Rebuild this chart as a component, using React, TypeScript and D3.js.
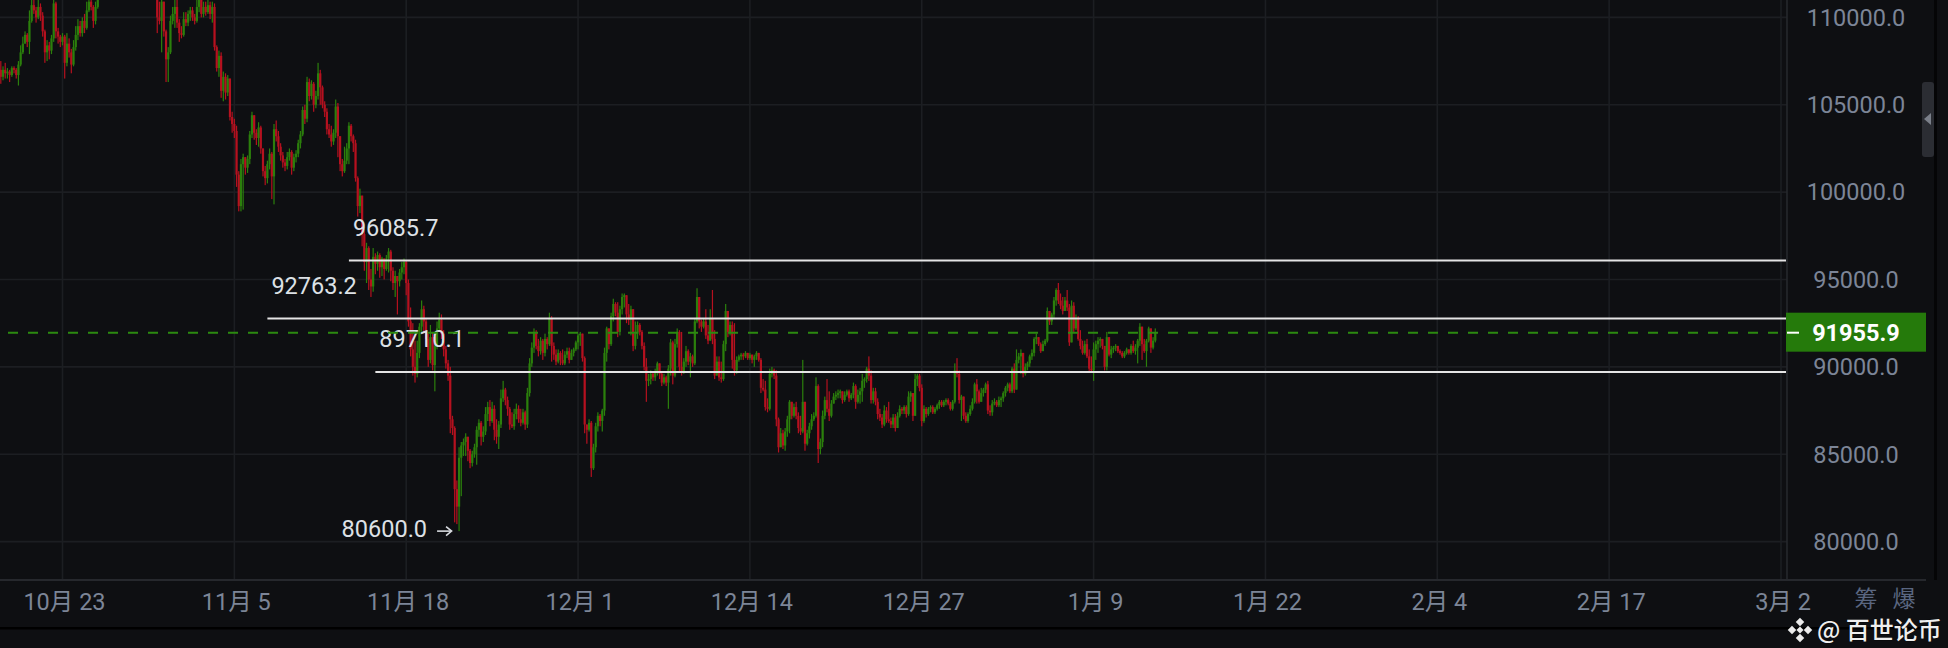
import React from 'react';
import * as d3 from 'd3';

// ---- data (prices in thousand USD), 4h candles starting 2025-10-18 08:00 UTC ----
const firstOpenK = 107.0;
const closeK = [
  106.6,107.0,106.8,106.9,106.7,107.1,107.0,106.7,107.3,108.0,108.5,109.0,108.6,109.8,110.7,110.4,110.0,110.6,110.1,109.2,
  108.0,108.4,108.1,108.8,110.8,109.2,108.9,108.6,108.9,107.4,108.5,108.0,107.3,108.3,109.0,109.5,109.1,109.8,109.4,110.4,
  110.9,110.6,109.8,110.6,111.3,111.8,112.4,113.0,112.7,113.4,114.0,113.6,114.2,114.8,115.2,114.6,114.1,113.5,113.9,113.2,
  112.6,113.0,112.4,112.9,113.3,112.8,112.3,112.7,112.1,112.5,111.9,110.0,109.8,110.9,109.2,107.6,108.0,109.8,110.2,110.6,
  109.7,109.1,109.0,109.9,109.7,110.2,110.4,110.0,109.8,110.6,111.2,110.2,110.6,110.3,110.7,110.2,110.6,108.3,107.1,107.8,
  105.8,106.6,105.7,106.5,104.3,103.9,103.5,101.0,99.2,101.6,102.0,101.4,101.9,103.3,104.4,103.4,103.1,103.7,102.5,101.2,
  100.8,101.6,102.2,100.9,103.6,103.2,102.6,102.1,101.7,101.5,102.0,102.3,101.4,102.0,102.2,102.8,103.3,104.7,104.2,106.3,
  105.5,106.2,105.0,105.5,106.8,106.0,105.0,104.6,103.6,103.3,102.9,103.4,104.9,103.2,101.6,101.2,101.8,102.5,103.8,103.2,
  102.8,100.8,99.2,99.8,97.6,96.0,96.8,95.0,94.6,96.3,95.9,96.4,95.7,96.2,95.6,96.2,96.6,95.5,94.8,95.2,
  94.9,95.4,95.7,96.0,94.8,92.6,91.0,90.0,89.6,90.8,92.3,93.3,92.6,91.6,90.4,91.7,90.1,91.2,92.2,92.7,
  91.9,91.0,90.2,89.5,87.0,86.5,83.0,82.0,84.8,85.5,85.7,86.0,85.2,84.5,85.0,85.4,86.4,86.8,86.0,86.3,
  87.3,87.7,86.9,87.6,86.4,86.0,86.7,88.2,88.7,88.1,87.6,86.7,86.6,87.3,87.6,87.0,86.8,87.4,86.7,88.5,
  90.2,91.1,92.0,91.2,90.9,91.5,90.8,91.6,91.3,92.8,91.2,90.7,90.3,90.8,90.4,90.2,90.7,90.9,90.4,90.8,
  91.0,91.4,91.8,91.9,90.5,86.7,86.4,86.8,84.2,85.4,86.6,87.2,86.9,87.5,90.8,92.2,91.3,92.9,93.6,93.1,
  92.0,93.3,94.0,94.1,93.0,92.7,93.3,91.2,91.9,92.4,92.0,91.2,90.0,89.2,89.3,89.6,89.4,89.7,90.2,89.6,
  89.1,89.4,89.1,89.9,91.4,89.5,91.3,92.0,90.0,89.7,90.3,90.9,90.3,90.6,90.2,92.6,94.0,92.6,92.3,92.6,
  91.8,91.5,92.8,91.6,89.5,90.3,89.4,89.3,91.3,93.2,92.0,92.4,90.4,89.8,90.4,90.6,90.7,90.6,90.8,
  90.5,90.7,90.4,90.6,90.8,90.4,88.8,88.7,87.7,87.6,89.6,89.8,89.5,87.0,85.4,86.2,85.5,86.3,87.0,88.0,87.2,87.7,87.2,86.5,
  86.3,88.0,85.6,86.2,86.6,87.0,87.2,88.9,85.3,85.7,87.2,88.1,87.6,87.2,87.9,88.3,88.4,88.5,88.6,88.1,
  88.4,88.6,88.2,88.4,88.9,88.0,88.4,88.6,89.2,89.3,89.9,89.5,88.1,88.6,88.0,87.3,87.1,86.7,87.5,87.0,
  86.9,86.7,87.1,86.5,87.2,87.6,87.5,87.7,87.3,88.3,88.5,87.2,89.3,89.5,88.8,86.9,87.6,87.3,87.6,87.7,
  87.4,87.6,87.8,88.0,87.8,88.0,88.1,87.9,87.6,88.0,89.8,89.6,88.1,88.3,87.2,86.9,87.3,87.6,88.0,89.0,
  88.6,88.0,88.5,88.7,89.0,87.5,87.4,87.9,88.0,87.8,88.1,
  88.2,88.5,88.8,89.0,88.6,89.9,88.7,90.4,90.6,90.8,89.6,90.0,90.2,90.6,90.8,91.6,91.7,91.3,90.9,91.3,
  91.5,93.2,92.6,93.0,93.8,94.4,93.8,93.5,93.2,93.8,93.4,91.4,93.5,92.2,92.8,91.6,91.2,90.8,91.3,90.6,
  89.9,89.8,91.0,91.3,91.5,91.6,91.2,90.0,91.7,90.7,91.0,91.1,91.2,90.9,90.8,90.6,90.8,91.0,90.8,91.2,
  90.9,91.1,91.5,92.3,91.3,90.9,91.5,92.2,91.1,91.5,91.9559,
];
const highK = [
  107.5,107.2,107.4,107.1,107.0,107.2,107.2,107.1,107.5,108.4,108.9,109.2,109.1,110.4,111.3,111.2,110.6,111.3,110.8,110.3,
  109.3,108.7,108.6,109.0,111.4,110.9,109.4,109.0,109.1,109.0,109.1,108.8,108.2,108.7,109.5,109.9,109.8,110.0,110.2,110.9,
  111.5,111.2,110.7,110.9,111.8,112.3,112.8,113.5,113.3,113.9,114.5,114.3,114.8,115.3,115.7,115.4,114.9,114.3,114.2,114.0,
  113.4,113.3,113.1,113.2,113.6,113.5,113.0,113.0,112.9,112.8,112.6,112.0,110.9,111.3,110.9,109.3,108.3,110.1,110.6,111.0,
  111.2,109.9,109.5,110.3,110.3,110.4,110.6,110.6,110.2,111.3,111.6,111.5,110.9,110.9,111.4,110.9,110.9,110.8,108.4,108.1,
  108.0,106.9,106.8,106.7,106.5,104.6,104.2,103.8,101.2,101.9,102.2,101.9,102.1,103.5,104.6,104.4,103.6,104.0,103.8,102.5,
  101.5,101.8,102.5,102.3,103.9,104.1,103.5,102.8,102.3,101.9,102.3,102.5,102.4,102.2,102.4,103.0,103.5,104.9,105.0,106.6,
  106.5,106.4,106.3,105.8,107.4,107.0,106.1,105.2,104.8,103.9,103.8,103.6,105.3,105.1,103.0,101.9,102.6,102.8,104.0,103.9,
  103.3,103.0,100.9,100.2,99.5,97.8,97.1,96.9,95.6,96.8,96.5,96.6,96.5,96.3,96.2,96.4,96.8,96.7,95.7,95.5,
  95.1,95.6,96.0,96.2,96.1,95.0,93.4,92.5,91.5,91.5,92.5,93.8,93.5,92.8,91.9,92.4,92.0,91.5,92.6,93.1,
  93.0,92.1,91.2,90.4,90.0,87.2,86.6,83.5,85.4,85.7,85.9,86.2,86.0,85.3,85.2,85.6,86.6,87.0,86.9,86.6,
  87.7,88.0,88.1,88.0,87.8,87.0,86.9,88.7,89.2,88.8,88.3,87.7,87.4,87.6,87.9,87.8,87.6,87.6,87.5,88.8,
  90.5,91.4,92.2,92.1,91.6,91.7,91.6,91.9,91.7,93.1,92.9,91.4,91.0,91.0,90.9,91.0,90.9,91.1,91.1,91.0,
  91.1,91.5,91.9,92.0,91.9,90.6,86.6,87.0,86.9,85.6,86.8,87.4,87.3,87.6,91.1,92.3,92.2,93.1,93.9,93.7,
  93.7,93.5,94.2,94.2,94.1,93.6,93.5,93.2,92.6,92.6,92.5,92.1,91.4,90.5,89.6,89.8,89.7,89.9,90.3,90.2,
  89.7,89.6,89.5,90.1,91.6,91.5,91.6,92.2,92.1,92.0,90.5,91.2,91.0,90.8,90.7,92.8,94.5,93.8,92.7,92.8,
  93.3,92.4,93.3,94.4,92.1,90.6,90.6,90.3,91.5,93.6,93.0,92.6,92.6,92.5,90.6,90.7,90.8,90.8,90.9,
  90.8,90.8,90.7,90.7,90.9,90.8,90.5,89.3,89.2,88.2,89.9,90.0,89.9,89.8,87.1,86.5,86.4,86.5,87.2,88.1,88.0,87.9,88.0,87.4,
  87.2,90.4,88.0,86.4,86.8,87.3,87.4,89.4,89.0,85.9,87.5,88.3,89.3,88.6,88.1,88.5,88.6,88.7,88.7,88.6,
  88.6,88.7,88.7,88.5,89.1,89.0,88.7,88.8,89.6,89.4,90.0,90.6,89.8,88.8,88.8,88.2,87.6,87.3,87.8,87.7,
  88.0,87.1,87.3,87.3,87.4,87.8,87.7,87.8,87.8,88.6,88.6,88.5,89.6,89.6,89.6,89.0,87.8,87.7,87.7,87.8,
  87.8,87.7,87.9,88.1,88.1,88.1,88.2,88.2,88.0,88.1,90.2,90.5,89.8,88.4,88.2,87.4,87.4,87.8,88.2,89.1,
  89.3,88.7,88.8,88.8,89.1,89.2,87.8,88.1,88.2,88.1,88.3,
  88.3,88.6,88.9,89.1,89.1,90.0,90.2,91.0,90.8,91.0,90.6,90.2,90.3,90.7,91.0,91.7,91.9,91.7,91.4,91.5,
  91.6,93.4,93.2,93.1,94.0,94.5,94.8,94.2,94.0,94.0,94.4,93.6,93.8,93.7,93.0,92.9,92.1,91.5,91.5,91.6,
  91.0,90.6,91.4,91.5,91.7,91.7,91.6,91.1,92.0,91.7,91.2,91.2,91.3,91.2,91.0,90.9,90.9,91.1,91.0,91.3,
  91.5,91.3,91.6,92.5,92.3,91.6,91.6,92.3,91.9,91.7,92.2,
];
const lowK = [
  106.2,106.4,106.5,106.5,106.3,106.6,106.8,106.5,106.1,107.2,107.9,108.6,108.3,107.9,109.7,110.2,109.7,109.9,109.8,108.9,
  107.4,107.5,107.6,107.9,108.6,108.8,108.5,108.3,108.4,106.5,107.2,107.7,106.8,107.2,108.1,108.7,108.9,108.9,109.1,109.3,
  110.3,110.4,109.4,109.6,110.5,111.2,111.6,112.2,112.3,112.5,113.2,113.2,113.4,114.0,114.5,114.2,113.8,113.1,113.2,112.8,
  112.2,112.3,112.0,112.1,112.6,112.5,111.9,111.8,111.7,111.6,111.4,109.1,109.6,108.0,108.9,106.3,106.3,107.9,109.6,109.4,
  109.4,108.6,108.8,108.9,109.5,109.5,109.8,109.8,109.6,109.7,110.3,110.0,110.0,110.1,110.2,109.9,109.7,108.1,106.9,106.6,
  105.4,105.2,105.3,105.5,104.1,103.4,103.1,100.3,98.9,98.9,99.0,101.0,101.1,101.6,103.1,103.0,102.7,102.6,102.2,100.9,
  100.4,100.5,101.3,99.6,99.3,102.9,102.3,101.8,101.4,101.2,101.3,101.8,101.0,101.2,101.7,102.0,102.5,103.2,103.9,104.0,
  105.2,105.3,104.6,104.8,105.3,105.0,104.8,104.3,103.3,103.1,102.6,102.7,103.1,102.0,101.2,100.9,101.1,101.6,101.6,102.9,
  102.3,100.6,98.6,98.8,96.9,95.5,94.8,94.4,94.0,94.3,95.3,95.5,95.1,95.2,95.0,95.5,95.4,94.9,94.4,94.0,
  93.0,94.6,95.0,95.3,94.1,92.3,90.6,89.5,89.1,89.4,90.5,92.0,92.0,91.2,90.0,90.2,89.8,88.6,91.0,92.0,
  91.6,90.6,89.9,89.2,86.2,86.1,81.1,81.0,80.6,82.6,84.9,84.9,84.6,84.2,84.3,84.8,84.4,86.0,85.5,85.7,
  86.1,86.9,86.6,86.8,85.8,85.6,85.3,86.5,88.0,87.8,87.2,86.4,86.5,86.4,87.0,86.8,86.6,86.7,86.4,86.5,
  88.3,90.0,90.8,91.0,90.6,90.7,90.4,90.6,91.0,91.2,90.3,90.4,90.1,90.2,90.1,90.1,90.1,90.5,90.2,90.4,
  90.6,90.9,91.0,91.2,90.3,86.2,85.6,86.3,83.7,84.1,85.1,86.3,86.6,86.3,87.2,90.3,91.0,91.2,92.6,92.9,
  91.7,91.8,93.0,93.4,92.5,92.4,91.8,90.9,91.0,91.6,91.8,91.0,89.8,88.0,88.9,89.0,89.2,89.2,89.5,89.3,
  88.9,89.0,88.9,87.6,89.5,89.0,89.4,91.1,89.7,89.5,89.6,90.0,90.1,89.4,90.0,90.1,92.5,92.2,92.0,92.2,
  91.6,91.3,91.5,91.3,89.3,89.8,89.2,89.1,89.2,90.9,91.7,91.8,89.9,89.5,89.6,90.3,90.4,90.4,90.5,
  90.4,90.4,90.2,90.0,90.4,90.3,88.5,88.6,87.5,87.4,87.5,89.4,89.3,86.6,85.1,85.4,85.3,85.2,86.0,86.2,87.0,87.1,87.0,86.2,
  86.1,86.2,85.2,85.5,85.9,86.4,86.9,87.1,84.5,85.0,85.4,87.0,87.4,86.9,87.1,87.9,88.1,88.2,88.2,87.9,
  88.0,88.3,88.0,88.1,88.2,87.6,87.9,87.9,88.0,88.8,89.1,89.2,87.9,87.9,87.8,87.0,86.9,86.5,86.6,86.8,
  86.8,86.5,86.5,86.3,86.5,87.1,87.3,87.3,87.1,87.2,88.0,86.9,87.5,88.9,88.6,86.6,86.8,87.1,87.2,87.4,
  87.3,87.3,87.5,87.6,87.7,87.7,87.8,87.8,87.5,87.5,87.9,89.4,87.9,86.9,87.0,86.8,86.8,87.2,87.5,87.9,
  87.9,87.9,88.0,88.3,88.5,87.3,87.2,87.2,87.8,87.7,87.7,
  87.7,88.0,88.3,88.6,88.5,88.5,88.5,88.7,90.2,89.6,89.4,89.5,89.8,90.0,90.4,90.6,91.3,91.2,90.8,90.9,
  91.2,91.4,92.4,92.4,92.8,93.5,93.6,93.3,93.0,93.2,93.2,91.2,91.6,92.0,92.1,91.5,91.0,90.7,90.7,90.5,
  89.7,89.7,89.2,90.4,90.8,91.1,91.0,89.8,89.8,90.6,90.5,90.8,90.9,90.8,90.7,90.5,90.5,90.7,90.7,90.7,
  90.8,90.7,90.2,91.2,90.4,90.8,90.0,91.4,90.8,91.0,91.4,
];
const firstCandleTime = Date.UTC(2025, 9, 18, 8);
const candleHours = 4;

const priceTicks = [80000, 85000, 90000, 95000, 100000, 105000, 110000];
const dateTicks = ['2025-10-23', '2025-11-05', '2025-11-18', '2025-12-01', '2025-12-14', '2025-12-27',
  '2026-01-09', '2026-01-22', '2026-02-04', '2026-02-17', '2026-03-02'];
const levelValues = [96085.7, 92763.2, 89710.1];
const levelStarts = ['2025-11-13T16:00:00Z', '2025-11-07T12:00:00Z', '2025-11-15T16:00:00Z'];
const lastPrice = 91955.9;
const sideTabs = ['筹', '爆'];
const watermark = '@ 百世论币';

const W = 1948, H = 648;
const PLOT_R = 1787, PLOT_B = 580;
const BG = '#0e0f12', GRID = '#1c1e22', AXIS_TXT = '#7c8597';
const UP = '#2b7f0c', DOWN = '#b5111f';
const FONT = "Roboto, 'Noto Sans CJK SC', sans-serif";

export default function App() {
  const x = d3.scaleUtc()
    .domain([new Date(Date.UTC(2025, 9, 23)), new Date(Date.UTC(2026, 2, 2))])
    .range([62.5, 1781]);
  const y = d3.scaleLinear().domain([80000, 110000]).range([541.6, 17.4]);

  const n = Math.min(closeK.length, highK.length, lowK.length);
  const candles = d3.range(n).map((i) => {
    const c = closeK[i] * 1000;
    const o = (i === 0 ? firstOpenK : closeK[i - 1]) * 1000;
    const h = Math.max(highK[i] * 1000, o, c);
    const l = Math.min(lowK[i] * 1000, o, c);
    return { t: new Date(firstCandleTime + i * candleHours * 3600e3), o, h, l, c };
  });
  const lowIdx = d3.minIndex(candles, (d) => d.l);
  const lowC = candles[lowIdx];
  const lowX = x(lowC.t);
  const lowY = y(lowC.l);

  return (
    <svg width={W} height={H} style={{ position: 'fixed', left: 0, top: 0, display: 'block' }}
      fontFamily={FONT}>
      <rect x={0} y={0} width={W} height={H} fill={BG} />
      {/* grid */}
      {priceTicks.map((v) => (
        <line key={'h' + v} x1={0} x2={PLOT_R} y1={y(v)} y2={y(v)} stroke={GRID} strokeWidth={1.6} />
      ))}
      {dateTicks.map((d) => {
        const xx = x(new Date(d + 'T00:00:00Z'));
        return <line key={'v' + d} x1={xx} x2={xx} y1={0} y2={PLOT_B} stroke={GRID} strokeWidth={1.6} />;
      })}
      {/* candles */}
      <g>
        {candles.map((d, i) => {
          const cx = x(d.t);
          const col = d.c >= d.o ? UP : DOWN;
          const top = y(Math.max(d.o, d.c));
          const bot = y(Math.min(d.o, d.c));
          return (
            <g key={i}>
              <rect x={cx - 0.6} y={y(d.h)} width={1.2} height={Math.max(1, y(d.l) - y(d.h))} fill={col} />
              <rect x={cx - 1.1} y={top} width={2.2} height={Math.max(1, bot - top)} fill={col} />
            </g>
          );
        })}
      </g>
      {/* levels */}
      {levelValues.map((v, k) => {
        const xs = x(new Date(levelStarts[k]));
        const yy = y(v);
        return (
          <g key={'lv' + k}>
            <line x1={xs} x2={PLOT_R - 1} y1={yy} y2={yy} stroke="#e4e4e4" strokeWidth={2} />
            <text x={xs + 4} y={yy - 25} fill="#dde1e6" fontSize={23.5}>{v.toFixed(1)}</text>
          </g>
        );
      })}
      {/* low marker */}
      <text x={lowX - 32} y={lowY + 6} fill="#dde1e6" fontSize={23.5} textAnchor="end">{lowC.l.toFixed(1)}</text>
      <line x1={lowX - 22} x2={lowX - 8} y1={lowY} y2={lowY} stroke="#d6d9de" strokeWidth={1.6} />
      <polyline points={`${lowX - 13},${lowY - 4.5} ${lowX - 7.5},${lowY} ${lowX - 13},${lowY + 4.5}`}
        fill="none" stroke="#d6d9de" strokeWidth={1.6} />
      {/* last price dashed */}
      <line x1={0} x2={PLOT_R} y1={y(lastPrice)} y2={y(lastPrice)} stroke="#2c8a10" strokeWidth={2}
        strokeDasharray="10 10" strokeDashoffset={12} />
      {/* axes frame */}
      <line x1={PLOT_R} x2={PLOT_R} y1={0} y2={PLOT_B} stroke="#26282d" strokeWidth={1.6} />
      <line x1={0} x2={1926} y1={PLOT_B} y2={PLOT_B} stroke="#26282d" strokeWidth={2} />
      {priceTicks.map((v) => (
        <text key={'yl' + v} x={1856} y={y(v) + 8.3} fill={AXIS_TXT} fontSize={23.5} textAnchor="middle">
          {v.toFixed(1)}
        </text>
      ))}
      {dateTicks.map((d) => {
        const dt = new Date(d + 'T00:00:00Z');
        const xx = x(dt);
        return (
          <text key={'xl' + d} x={xx + 2} y={609.5} fill={AXIS_TXT} fontSize={23.5} textAnchor="middle">
            {`${dt.getUTCMonth() + 1}月 ${dt.getUTCDate()}`}
          </text>
        );
      })}
      {/* price tag */}
      <rect x={PLOT_R - 1} y={y(lastPrice) - 20} width={1926 - PLOT_R + 1} height={39} fill="#257a0b" />
      <line x1={PLOT_R} x2={PLOT_R + 12} y1={y(lastPrice)} y2={y(lastPrice)} stroke="#ffffff" strokeWidth={2} />
      <text x={1856} y={y(lastPrice) + 8.5} fill="#ffffff" fontSize={23.5} fontWeight={700} textAnchor="middle">
        {lastPrice.toFixed(1)}
      </text>
      {/* right strip */}
      <rect x={1934} y={0} width={3} height={PLOT_B} fill="#050506" />
      <rect x={1922} y={82} width={12} height={75} rx={3} fill="#2b2d33" />
      <polygon points="1924,119 1931,113 1931,125" fill="#7a7f89" />
      {/* bottom */}
      <rect x={0} y={627} width={1926} height={2.5} fill="#000000" />
      <text x={1866} y={607} fill="#5a6680" fontSize={23} textAnchor="middle">{sideTabs[0]}</text>
      <text x={1904} y={607} fill="#5a6680" fontSize={23} textAnchor="middle">{sideTabs[1]}</text>
      {/* watermark */}
      <g>
        <g transform="translate(1800,630)" fill="#ececec">
          <rect x={-3} y={-11} width={6} height={6} transform="rotate(45 0 -8)" />
          <rect x={-3} y={5} width={6} height={6} transform="rotate(45 0 8)" />
          <rect x={-11} y={-3} width={6} height={6} transform="rotate(45 -8 0)" />
          <rect x={5} y={-3} width={6} height={6} transform="rotate(45 8 0)" />
          <rect x={-2.5} y={-2.5} width={5} height={5} transform="rotate(45 0 0)" />
        </g>
        <text x={1817} y={639} fill="#efefef" fontSize={24} fontWeight={500}
          fontFamily="'Noto Sans CJK SC', sans-serif"
          stroke="#000" strokeWidth={0.6} paintOrder="stroke">{watermark}</text>
      </g>
    </svg>
  );
}
